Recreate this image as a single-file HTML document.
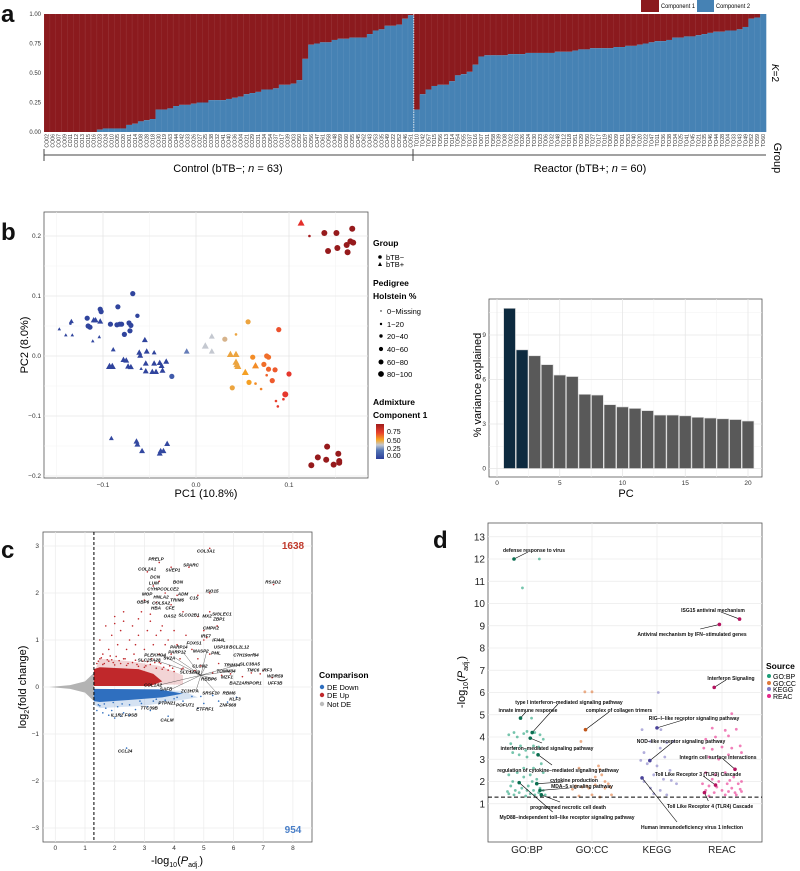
<!DOCTYPE html>
<html><head><meta charset="utf-8">
<style>
html,body{margin:0;padding:0;background:#fff;}
svg{display:block;font-family:"Liberation Sans",sans-serif;}
</style></head>
<body>
<svg id="fig" width="800" height="871" viewBox="0 0 800 871" xmlns="http://www.w3.org/2000/svg">
<g font-weight="bold" font-size="24" fill="#111">
<text x="1" y="22">a</text>
<text x="1" y="240">b</text>
<text x="1" y="558">c</text>
<text x="433" y="548">d</text>
</g>
<g font-size="6">
<rect x="641" y="0" width="18" height="12" fill="#8b1a1e"/>
<text x="661" y="8" textLength="34" lengthAdjust="spacingAndGlyphs">Component 1</text>
<rect x="697" y="0" width="17" height="12" fill="#4682b4"/>
<text x="716" y="8" textLength="34" lengthAdjust="spacingAndGlyphs">Component 2</text>
</g>
<text x="772" y="73" font-size="10" transform="rotate(90 772 73)" text-anchor="middle"><tspan font-style="italic">K</tspan>=2</text>
<text x="774" y="158" font-size="11" transform="rotate(90 774 158)" text-anchor="middle">Group</text>
<g stroke="#444" stroke-width="1">
<line x1="44" y1="155" x2="766" y2="155"/><line x1="44" y1="149" x2="44" y2="161"/><line x1="413" y1="149" x2="413" y2="161"/>
</g>
<text x="228" y="172" font-size="11" text-anchor="middle">Control (bTB−; <tspan font-style="italic">n</tspan> = 63)</text>
<text x="590" y="172" font-size="11" text-anchor="middle">Reactor (bTB+; <tspan font-style="italic">n</tspan> = 60)</text>
<g id="pa"></g>
<g id="pb"></g>
<g font-size="7.5">
<text x="373" y="246" font-weight="bold" font-size="8.5">Group</text>
<circle cx="380" cy="257" r="1.8" fill="#000"/><text x="386" y="260">bTB−</text>
<polygon points="380,262 382,266 378,266" fill="#000"/><text x="386" y="267">bTB+</text>
<text x="373" y="286" font-weight="bold" font-size="8.5">Pedigree</text>
<text x="373" y="299" font-weight="bold" font-size="8.5">Holstein %</text>
<circle cx="381" cy="311" r="0.7" fill="#000"/><text x="387" y="314">0−Missing</text>
<circle cx="381" cy="324" r="1.2" fill="#000"/><text x="387" y="327">1−20</text>
<circle cx="381" cy="336" r="1.7" fill="#000"/><text x="387" y="339">20−40</text>
<circle cx="381" cy="349" r="2.1" fill="#000"/><text x="387" y="352">40−60</text>
<circle cx="381" cy="362" r="2.5" fill="#000"/><text x="387" y="365">60−80</text>
<circle cx="381" cy="374" r="2.9" fill="#000"/><text x="387" y="377">80−100</text>
<text x="373" y="405" font-weight="bold" font-size="8.5">Admixture</text>
<text x="373" y="418" font-weight="bold" font-size="8.5">Component 1</text>
<defs><linearGradient id="cbar" x1="0" y1="1" x2="0" y2="0">
<stop offset="0" stop-color="#2c3e9a"/><stop offset="0.25" stop-color="#5577b5"/><stop offset="0.4" stop-color="#c4c8d0"/><stop offset="0.55" stop-color="#f5a623"/><stop offset="0.75" stop-color="#e8412c"/><stop offset="1" stop-color="#a01c1c"/></linearGradient></defs>
<rect x="376" y="424" width="8" height="35" fill="url(#cbar)"/>
<g font-size="7"><text x="387" y="434">0.75</text><text x="387" y="443">0.50</text><text x="387" y="451">0.25</text><text x="387" y="458">0.00</text></g>
</g>
<g id="pb2"></g>
<g id="pc"></g>
<g font-size="7.5">
<text x="319" y="678" font-weight="bold" font-size="8.5">Comparison</text>
<circle cx="322" cy="687" r="2.2" fill="#2f6fbf"/><text x="327" y="690">DE Down</text>
<circle cx="322" cy="695" r="2.2" fill="#c0282b"/><text x="327" y="698">DE Up</text>
<circle cx="322" cy="704" r="2.2" fill="#bbb"/><text x="327" y="707">Not DE</text>
</g>
<g id="pd"></g>
<g font-size="7">
<text x="766" y="669" font-weight="bold" font-size="8.5">Source</text>
<circle cx="769" cy="676" r="2" fill="#1b9e77"/><text x="773" y="679">GO:BP</text>
<circle cx="769" cy="683" r="2" fill="#e0783a"/><text x="773" y="686">GO:CC</text>
<circle cx="769" cy="689" r="2" fill="#7f78c5"/><text x="773" y="692">KEGG</text>
<circle cx="769" cy="696" r="2" fill="#e7298a"/><text x="773" y="699">REAC</text>
</g>
</svg>
<script>
const NS="http://www.w3.org/2000/svg";
function mk(tag,attrs,parent){const e=document.createElementNS(NS,tag);for(const k in attrs)e.setAttribute(k,attrs[k]);parent.appendChild(e);return e;}

const controlIds=["CO02","CO06","CO07","CO09","CO11","CO12","CO13","CO15","CO16","CO23","CO24","CO10","CO05","CO20","CO01","CO14","CO08","CO28","CO18","CO30","CO19","CO63","CO44","CO42","CO33","CO26","CO27","CO25","CO38","CO32","CO41","CO40","CO36","CO04","CO21","CO29","CO31","CO34","CO54","CO37","CO17","CO39","CO03","CO50","CO57","CO56","CO47","CO61","CO58","CO48","CO59","CO60","CO55","CO45","CO62","CO43","CO53","CO35","CO49","CO22","CO52","CO46","CO51"];
const controlComp2=[0,0,0,0,0,0,0,0,0,0.02,0.03,0.03,0.03,0.03,0.06,0.07,0.09,0.10,0.11,0.19,0.19,0.20,0.22,0.23,0.23,0.24,0.25,0.25,0.27,0.27,0.27,0.28,0.29,0.30,0.32,0.33,0.34,0.36,0.36,0.37,0.40,0.40,0.41,0.44,0.62,0.74,0.75,0.76,0.76,0.78,0.79,0.79,0.80,0.80,0.80,0.83,0.86,0.87,0.90,0.90,0.91,0.96,0.99];
const reactorIds=["TO10","TO42","TO57","TO15","TO56","TO13","TO14","TO54","TO55","TO37","TO16","TO07","TO31","TO58","TO39","TO08","TO02","TO03","TO26","TO24","TO30","TO23","TO06","TO32","TO48","TO12","TO18","TO51","TO29","TO50","TO27","TO17","TO19","TO05","TO09","TO01","TO53","TO40","TO20","TO22","TO47","TO11","TO36","TO38","TO34","TO25","TO41","TO45","TO21","TO35","TO46","TO44","TO28","TO04","TO33","TO43","TO49","TO52","TO59","TO60"];
const reactorComp2=[0.19,0.32,0.36,0.39,0.40,0.40,0.43,0.48,0.49,0.51,0.57,0.64,0.65,0.65,0.65,0.65,0.66,0.66,0.66,0.67,0.67,0.67,0.67,0.67,0.68,0.68,0.68,0.69,0.70,0.70,0.71,0.71,0.71,0.71,0.72,0.72,0.73,0.73,0.74,0.75,0.76,0.77,0.77,0.78,0.80,0.80,0.81,0.81,0.82,0.83,0.84,0.85,0.85,0.86,0.86,0.87,0.89,0.96,0.97,1.0];
const aTicks=["0.00","0.25","0.50","0.75","1.00"];

const pc1=[0.138,0.151,0.168,0.142,0.152,0.162,0.166,0.169,0.163,0.122,0.113,
0.124,0.131,0.140,0.141,0.148,0.153,0.154,0.154,
-0.091,-0.064,-0.063,-0.058,-0.039,-0.038,-0.035,-0.031,
-0.117,-0.116,-0.114,-0.103,-0.102,-0.092,-0.084,-0.085,-0.082,-0.080,-0.077,-0.071,-0.072,-0.070,-0.068,-0.063,-0.026,-0.135,
-0.147,-0.140,-0.133,-0.134,-0.111,-0.104,-0.110,-0.108,-0.103,-0.089,-0.093,-0.090,-0.078,-0.075,-0.073,-0.070,-0.055,-0.061,-0.060,-0.053,-0.054,-0.059,-0.054,-0.047,-0.043,-0.045,-0.045,-0.039,-0.037,-0.036,-0.032,-0.010,
0.010,0.017,0.017,0.031,
0.056,0.043,0.037,0.043,0.043,0.044,0.045,0.053,0.039,0.057,0.064,0.061,0.064,0.070,
0.073,0.076,0.078,0.078,0.076,0.082,0.085,0.089,0.100,0.096,0.094,0.086,0.088];
const pc2=[0.205,0.205,0.212,0.175,0.180,0.185,0.191,0.189,0.173,0.200,0.222,
-0.182,-0.169,-0.173,-0.151,-0.181,-0.163,-0.175,-0.178,
-0.137,-0.142,-0.147,-0.158,-0.162,-0.158,-0.158,-0.146,
0.063,0.050,0.048,0.078,0.074,0.053,0.082,0.052,0.053,0.053,0.036,0.042,0.055,0.051,0.104,0.067,-0.034,0.054,
0.045,0.035,0.035,0.058,0.025,0.032,0.060,0.060,0.058,0.011,-0.017,-0.017,-0.006,-0.007,-0.017,-0.018,0.027,0.006,0.001,0.008,-0.012,-0.021,-0.025,-0.026,-0.026,0.006,-0.012,-0.011,-0.016,-0.024,-0.009,0.008,
0.017,0.033,0.008,0.028,
0.057,0.036,0.003,0.003,-0.010,-0.014,-0.017,-0.027,-0.053,-0.044,-0.046,-0.002,-0.016,-0.055,
-0.014,0.000,-0.002,-0.022,-0.032,-0.041,-0.023,0.044,-0.030,-0.064,-0.072,-0.075,-0.084];
const pcGroup=[0,0,0,0,0,0,0,0,0,0,1,
0,0,0,0,0,0,0,0,
1,1,1,1,1,1,1,1,
0,0,0,0,0,0,0,0,0,0,0,0,0,0,0,0,0,0,
1,1,1,1,1,1,1,1,1,1,1,1,1,1,1,1,1,1,1,1,1,1,1,1,1,1,1,1,1,1,1,1,
1,1,1,0,
0,0,1,1,1,1,1,1,0,0,0,0,1,0,
0,0,0,0,0,0,0,0,0,0,0,0,0];
const pcHolstein=[5,5,5,5,5,5,5,5,5,1,4,
5,5,5,5,5,5,5,5,
2,3,3,3,3,3,3,3,
4,4,4,4,4,4,4,4,4,4,4,4,4,4,4,3,4,1,
1,1,1,2,1,1,3,3,3,2,4,4,3,3,3,3,3,3,3,3,3,1,3,3,3,2,3,3,3,3,3,3,
4,3,3,4,
4,1,4,4,4,4,4,4,4,4,1,4,4,1,
4,4,4,4,1,4,4,4,4,5,1,1,1];
const pcComp1=[0.98,0.98,0.98,0.98,0.98,0.98,0.98,0.98,0.98,0.95,0.82,
0.98,0.98,0.98,0.98,0.98,0.98,0.98,0.98,
0.05,0.05,0.05,0.05,0.05,0.05,0.05,0.05,
0.03,0.03,0.03,0.03,0.03,0.03,0.03,0.03,0.03,0.03,0.03,0.03,0.03,0.03,0.03,0.03,0.15,0.05,
0.03,0.03,0.03,0.03,0.05,0.05,0.03,0.03,0.03,0.05,0.03,0.03,0.03,0.03,0.03,0.03,0.03,0.03,0.03,0.03,0.03,0.05,0.03,0.03,0.03,0.03,0.03,0.03,0.03,0.03,0.03,0.25,
0.40,0.40,0.40,0.47,
0.55,0.55,0.55,0.55,0.55,0.55,0.55,0.58,0.55,0.58,0.62,0.62,0.62,0.64,
0.68,0.68,0.68,0.70,0.70,0.72,0.72,0.74,0.80,0.80,0.80,0.78,0.80];
const pcXTicks=[-0.1,0.0,0.1];
const pcYTicks=[-0.2,-0.1,0.0,0.1,0.2];
const varExplained=[10.8,8.0,7.6,7.0,6.3,6.2,5.0,4.95,4.3,4.15,4.05,3.9,3.6,3.6,3.55,3.45,3.4,3.35,3.3,3.2];
const varYTicks=[0,3,6,9];
const varXTicks=[0,5,10,15,20];

const upX=[1.5,1.7,1.9,2.0,2.1,2.2,2.3,2.4,2.5,2.6,2.7,2.8,2.9,3.0,3.1,3.2,3.3,3.4,3.5,3.6,3.7,3.8,3.9,4.0,4.1,4.2,4.4,4.6,4.8,5.0,5.2,5.5,1.6,1.8,2.05,2.35,2.65,2.95,3.25,3.55,3.85,4.3,4.7,5.3,5.9,6.6,7.0,7.3,7.35,5.2,5.2,3.5,4.5,3.9,3.1,3.5,3.3,3.7,4.1,4.8,3.0,3.4,3.9,5.2,4.8,5.45,5.0,5.1,3.55,4.3,3.2,2.8,2.3,2.0,1.45,1.55,1.65,1.75,1.85,1.95,2.15,2.45,2.75,3.05,3.35,3.65,3.95,4.25,4.55,4.9,5.6,6.3,6.9,1.4,1.6,1.8,2.0,2.2,2.4,2.6,2.8,3.0,3.2,3.4,3.6,3.8,4.0,1.5,1.9,2.3,2.7,3.1,3.5];
const upY=[1.0,1.3,1.1,1.5,0.9,1.2,1.4,0.8,1.0,1.3,0.9,1.1,1.6,0.8,1.2,1.4,0.9,1.1,0.7,1.3,0.9,1.0,0.7,1.2,0.9,0.6,1.1,0.8,0.6,1.0,0.7,0.5,0.7,0.8,0.65,0.6,0.7,0.55,0.6,0.5,0.45,0.4,0.35,0.3,0.28,0.3,0.35,0.2,2.18,2.0,2.95,2.65,2.55,2.55,2.45,2.25,2.15,2.0,1.95,1.95,1.85,1.8,1.75,1.6,1.5,1.3,1.2,1.05,1.2,1.6,1.55,1.45,1.6,1.35,0.55,0.62,0.5,0.58,0.66,0.52,0.56,0.5,0.48,0.45,0.52,0.42,0.4,0.38,0.33,0.45,0.25,0.22,0.28,0.5,0.48,0.55,0.47,0.5,0.46,0.52,0.44,0.42,0.48,0.4,0.38,0.36,0.33,0.6,0.58,0.6,0.57,0.54,0.52];
const downX=[1.5,1.7,1.9,2.1,2.3,2.5,2.7,2.9,3.1,3.3,3.5,3.7,4.0,4.3,4.6,5.0,5.5,5.8,6.1,1.6,1.8,2.2,2.0,2.5,3.2,3.8,2.4,1.4,2.6,4.8,1.45,1.65,1.95,2.25,2.85,3.4,4.1,4.9,5.3];
const downY=[-0.4,-0.45,-0.5,-0.42,-0.55,-0.38,-0.48,-0.35,-0.42,-0.3,-0.35,-0.28,-0.25,-0.3,-0.2,-0.35,-0.3,-0.32,-0.22,-0.55,-0.6,-0.62,-0.66,-0.6,-0.5,-0.62,-1.3,-0.5,-0.25,-0.45,-0.38,-0.36,-0.33,-0.36,-0.3,-0.26,-0.22,-0.2,-0.18];
const geneNames=["COL3A1","PRELP","SPARC","COL2A1","SVEP1","DCN","BGN","LUM","CYH","PCOLCE2","ADM","ISG15","RSAD2","MGP","HNLA2","C1S","TRIM6","GBP6","COL5A2","HBA","CFE","OAS2","SLCO2B1","MX2","SIGLEC1","ZBP1","CMPK2","IRF7","IFI44L","FOXS1","USP18","BCL2L12","PARP14","PARP12","MASP2","PML","C7H19orf84","PLEKHO4","SV2A","SLC25A28","CLCN2","TRIM34","SLC38A5","TMC6","IRF3","WDR59","TOMM34","SLC12A9","RBBP6","MZF1","COL1A2","BAZ2A","RIPOR1","UFF3B","SAFB","ZC3H7A","SRSF10","RBM6","KLF3","PTPN21","POFUT1","ZNF668","TTC39B","ETFRF1","IL1R2","FOSB","CALM","CCL24"];
const geneX=[5.07,3.39,4.57,3.09,3.96,3.36,4.13,3.32,3.26,3.79,4.30,5.28,7.33,3.09,3.56,4.67,4.10,2.95,3.56,3.39,3.86,3.86,4.50,5.11,5.61,5.51,5.24,5.07,5.51,4.67,5.58,6.19,4.16,4.10,4.90,5.41,6.42,3.36,3.84,3.16,4.87,5.95,6.55,6.66,7.13,7.40,5.75,4.53,5.17,5.78,3.29,6.12,6.66,7.40,3.73,4.53,5.24,5.85,6.05,3.76,4.37,5.81,3.16,5.04,2.08,2.55,3.76,2.35];
const geneY=[2.89,2.72,2.60,2.51,2.49,2.34,2.23,2.21,2.09,2.09,1.98,2.04,2.23,1.98,1.91,1.89,1.85,1.81,1.79,1.68,1.68,1.51,1.53,1.51,1.55,1.45,1.26,1.09,1.00,0.94,0.85,0.85,0.85,0.74,0.77,0.72,0.68,0.68,0.62,0.57,0.45,0.47,0.49,0.36,0.36,0.23,0.34,0.32,0.17,0.21,0.04,0.09,0.09,0.09,-0.04,-0.09,-0.13,-0.13,-0.26,-0.34,-0.38,-0.38,-0.45,-0.47,-0.60,-0.60,-0.70,-1.36];
const cXTicks=[0,1,2,3,4,5,6,7,8];
const cYTicks=[-3,-2,-1,0,1,2,3];
const nUp="1638", nDown="954";

const sources=["GO:BP","GO:CC","KEGG","REAC"];
const bpOff=[0.19,-0.07,0.07,-0.28,-0.2,-0.15,-0.05,0.0,0.12,0.2,0.25,-0.25,-0.18,-0.1,-0.02,0.1,0.18,-0.22,-0.12,0.0,0.1,0.22,-0.28,-0.15,-0.05,0.05,0.15,0.25,-0.25,-0.18,-0.08,0.02,0.1,0.2,-0.28,-0.2,-0.12,-0.02,0.05,0.12,0.18,0.28,-0.3,0.0,0.25,-0.22,0.08,0.1,-0.05];
const bpY=[12.0,10.7,4.85,4.1,4.2,4.0,4.15,4.25,4.2,4.1,3.9,3.7,3.5,3.6,3.4,3.6,3.55,3.3,3.2,3.1,3.3,2.8,2.3,2.4,2.2,2.3,2.1,2.4,1.8,1.6,1.7,1.8,1.6,1.7,1.45,1.4,1.5,1.35,1.45,1.4,1.5,1.4,1.55,1.6,1.6,2.0,2.0,2.6,2.6];
const ccOff=[-0.11,0.0,-0.17,-0.2,0.1,0.12,0.05,0.15,-0.25,-0.15,-0.05,0.05,0.2,0.25,-0.3,-0.2,0.0,0.12,0.3,-0.08,0.2,0.28];
const ccY=[6.03,6.03,3.8,2.6,2.7,2.55,2.2,2.3,1.8,1.75,1.7,1.85,1.7,1.9,1.65,1.35,1.4,1.3,1.4,1.8,2.0,1.75];
const keggOff=[0.02,-0.23,0.06,-0.1,0.15,0.25,-0.2,0.05,0.12,-0.25,-0.15,0.0,0.2,-0.05,0.1,-0.2,0.22,-0.1,0.05,0.15,-0.05,0.3];
const keggY=[6.0,4.33,4.33,3.8,3.75,3.8,3.3,3.5,3.1,2.95,2.8,2.7,2.5,2.3,2.1,2.0,2.05,1.7,1.6,1.4,1.45,1.9];
const reacOff=[0.15,-0.15,0.05,0.22,-0.25,-0.1,0.1,0.28,-0.28,-0.15,0.0,0.15,-0.2,-0.05,0.1,0.3,-0.25,-0.1,0.05,0.18,0.3,-0.3,-0.2,-0.05,0.08,0.15,0.25,-0.25,-0.12,0.0,0.1,0.2,0.3,-0.2,0.05,0.22,-0.08,0.12,0.28,-0.15];
const reacY=[5.05,4.4,4.3,4.35,3.9,4.0,4.05,3.6,3.5,3.45,3.55,3.5,3.1,3.0,3.2,3.3,2.4,2.3,2.4,2.2,2.0,1.9,1.8,2.0,1.9,1.7,1.9,1.6,1.5,1.6,1.55,1.5,1.55,1.35,1.4,1.4,1.75,2.05,1.65,2.1];
const termNames=["defense response to virus","innate immune response","type I interferon−mediated signaling pathway","interferon−mediated signaling pathway","regulation of cytokine−mediated signaling pathway","MyD88−independent toll−like receptor signaling pathway","cytokine production","MDA−5 signaling pathway","programmed necrotic cell death","complex of collagen trimers","RIG−I−like receptor signaling pathway","NOD−like receptor signaling pathway","Human immunodeficiency virus 1 infection","ISG15 antiviral mechanism","Antiviral mechanism by IFN−stimulated genes","Interferon Signaling","Integrin cell surface interactions","Toll Like Receptor 3 (TLR3) Cascade","Toll Like Receptor 4 (TLR4) Cascade"];
const termSource=[0,0,0,0,0,0,0,0,0,1,2,2,2,3,3,3,3,3,3];
const termOff=[-0.2,-0.1,0.08,0.05,0.17,-0.12,0.15,0.2,0.22,-0.1,0.0,-0.11,-0.23,0.27,-0.04,-0.12,0.2,-0.1,-0.27];
const termY=[12.0,4.85,4.2,3.95,3.2,1.95,1.9,1.6,1.4,4.33,4.41,2.94,2.16,9.3,9.06,6.23,2.55,1.84,1.5];
const dYTicks=[1,2,3,4,5,6,7,8,9,10,11,12,13];
const termLabelPos=[[534,550],[528,710],[569,702],[547,748],[558,770],[567,817],[574,780],[582,786],[568,807],[619,710],[694,718],[681,741],[692,827],[713,610],[692,634],[731,678],[718,757],[698,774],[710,806]];

(function(){
 const g=document.getElementById('pa');
 const L=44,R=766,T=14,B=132;
 const n=controlComp2.length+reactorComp2.length;
 const bw=(R-L)/n;
 const xs=i=>L+i*bw;
 const ys=v=>B-v*(B-T);
 const all=controlComp2.concat(reactorComp2);
 const ids=controlIds.concat(reactorIds);
 all.forEach((v,i)=>{
  const r1=mk('rect',{x:xs(i),y:T,width:bw+0.3,height:ys(v)-T,fill:'#8b1a1e'},g);
  
  
  const r2=mk('rect',{x:xs(i),y:ys(v),width:bw+0.3,height:B-ys(v),fill:'#4682b4'},g);
  
  
  mk('line',{x1:xs(i),y1:T,x2:xs(i),y2:B,stroke:'#ffffff',"stroke-opacity":0.15,"stroke-width":0.4},g);
  const t=mk('text',{x:0,y:0,"font-size":5.2,"text-anchor":"end",transform:`translate(${xs(i)+bw/2+1.8},${B+2}) rotate(-90)`,fill:'#333'},g);
  t.textContent=ids[i];
  
  
 });
 mk('line',{x1:xs(controlComp2.length),y1:T,x2:xs(controlComp2.length),y2:B,stroke:'#fff',"stroke-width":0.8,"stroke-dasharray":"1.5,1"},g);
 aTicks.forEach(s=>{
  const v=parseFloat(s);
  const t=mk('text',{x:41,y:ys(v)+2,"font-size":6,"text-anchor":"end",fill:'#333'},g);
  t.textContent=s;
  
  
 });
})();

function admixColor(v){
 const st=[[0,[44,62,154]],[0.2,[70,100,176]],[0.4,[196,200,208]],[0.5,[221,170,110]],[0.58,[245,160,35]],[0.72,[238,90,45]],[0.84,[226,38,43]],[1,[139,24,26]]];
 for(let i=1;i<st.length;i++){if(v<=st[i][0]){const a=st[i-1],b=st[i];const t=(v-a[0])/(b[0]-a[0]);const c=a[1].map((x,k)=>Math.round(x+(b[1][k]-x)*t));return `rgb(${c})`;}}
 return 'rgb(139,24,26)';
}
(function(){
 const g=document.getElementById('pb');
 const L=44,R=368,T=212,B=478;
 const xs=v=>196+v*930;
 const ys=v=>356-v*600;
 mk('rect',{x:L,y:T,width:R-L,height:B-T,fill:'#fff',stroke:'#555',"stroke-width":0.8},g);
 [-0.15,-0.05,0.05,0.15].forEach(v=>mk('line',{x1:xs(v),y1:T,x2:xs(v),y2:B,stroke:'#f2f2f2',"stroke-width":0.5},g));
 [-0.15,-0.05,0.05,0.15].forEach(v=>mk('line',{x1:L,y1:ys(v),x2:R,y2:ys(v),stroke:'#f2f2f2',"stroke-width":0.5},g));
 pcXTicks.forEach(v=>{mk('line',{x1:xs(v),y1:T,x2:xs(v),y2:B,stroke:'#e6e6e6',"stroke-width":0.8},g);
  const t=mk('text',{x:xs(v),y:B+9,"font-size":6.5,"text-anchor":"middle",fill:'#333'},g);t.textContent=v.toFixed(1).replace('-','−');
  
  });
 pcYTicks.forEach(v=>{mk('line',{x1:L,y1:ys(v),x2:R,y2:ys(v),stroke:'#e6e6e6',"stroke-width":0.8},g);
  const t=mk('text',{x:L-3,y:ys(v)+2,"font-size":6.5,"text-anchor":"end",fill:'#333'},g);t.textContent=v.toFixed(1).replace('-','−');
  
  });
 const rad=[0.8,1.3,1.8,2.2,2.6,3.0];
 pc1.forEach((x,i)=>{
  const cx=xs(x),cy=ys(pc2[i]),r=rad[pcHolstein[i]],col=admixColor(pcComp1[i]);
  let m;
  if(pcGroup[i]===0){m=mk('circle',{cx:cx,cy:cy,r:r,fill:col},g);}
  else{const s=r*1.35;m=mk('polygon',{points:`${cx},${cy-s} ${cx+s},${cy+s*0.8} ${cx-s},${cy+s*0.8}`,fill:col},g);}
  
  
 });
 const xt=mk('text',{x:206,y:497,"font-size":11,"text-anchor":"middle"},g);xt.textContent='PC1 (10.8%)';
 
 
 const yt=mk('text',{x:0,y:0,"font-size":11,"text-anchor":"middle",transform:'translate(28,345) rotate(-90)'},g);yt.textContent='PC2 (8.0%)';
 
 
})();

(function(){
 const g=document.getElementById('pb2');
 const L=489,R=762,T=299,B=477;
 const xs=v=>497+v*12.55;
 const ys=v=>468.5-v*14.83;
 mk('rect',{x:L,y:T,width:R-L,height:B-T,fill:'#fff',stroke:'#555',"stroke-width":0.8},g);
 [2.5,7.5,12.5,17.5].forEach(v=>mk('line',{x1:xs(v),y1:T,x2:xs(v),y2:B,stroke:'#f2f2f2',"stroke-width":0.5},g));
 [1.5,4.5,7.5,10.5].forEach(v=>mk('line',{x1:L,y1:ys(v),x2:R,y2:ys(v),stroke:'#f2f2f2',"stroke-width":0.5},g));
 varXTicks.forEach(v=>{mk('line',{x1:xs(v),y1:T,x2:xs(v),y2:B,stroke:'#e6e6e6',"stroke-width":0.8},g);
  const t=mk('text',{x:xs(v),y:B+8,"font-size":6.5,"text-anchor":"middle",fill:'#333'},g);t.textContent=v;
  
  });
 varYTicks.forEach(v=>{mk('line',{x1:L,y1:ys(v),x2:R,y2:ys(v),stroke:'#e6e6e6',"stroke-width":0.8},g);
  const t=mk('text',{x:L-3,y:ys(v)+2,"font-size":6.5,"text-anchor":"end",fill:'#333'},g);t.textContent=v;
  
  });
 varExplained.forEach((v,i)=>{
  const b=mk('rect',{x:xs(i+1)-5.9,y:ys(v),width:11.8,height:ys(0)-ys(v),fill:i<2?'#0d2a3f':'#595959',stroke:'#d9d9d9',"stroke-width":0.6},g);
  
  
 });
 const xt=mk('text',{x:626,y:497,"font-size":11,"text-anchor":"middle"},g);xt.textContent='PC';
 
 
 const yt=mk('text',{x:0,y:0,"font-size":11,"text-anchor":"middle",transform:'translate(481,385) rotate(-90)'},g);yt.textContent='% variance explained';
 
 
})();

(function(){
 const g=document.getElementById('pc');
 const L=43,R=312,T=532,B=842;
 const xs=v=>55.3+v*29.7;
 const ys=v=>687-v*47;
 mk('rect',{x:L,y:T,width:R-L,height:B-T,fill:'#fff',stroke:'#555',"stroke-width":0.8},g);
 cXTicks.forEach(v=>{mk('line',{x1:xs(v),y1:T,x2:xs(v),y2:B,stroke:'#ebebeb',"stroke-width":0.7},g);
  const t=mk('text',{x:xs(v),y:B+8,"font-size":6.5,"text-anchor":"middle",fill:'#333'},g);t.textContent=v;
  
  });
 cYTicks.forEach(v=>{mk('line',{x1:L,y1:ys(v),x2:R,y2:ys(v),stroke:'#ebebeb',"stroke-width":0.7},g);
  const t=mk('text',{x:L-4,y:ys(v)+2,"font-size":6.5,"text-anchor":"end",fill:'#333'},g);t.textContent=String(v).replace('-','−');
  
  });
 const P=(x,y)=>`${xs(x)},${ys(y)}`;
 const gray=mk('polygon',{points:[P(-0.2,0),P(0.5,0.04),P(1.0,0.12),P(1.3,0.3),P(1.3,-0.3),P(1.0,-0.12),P(0.5,-0.04)].join(' '),fill:'#b3b3b3'},g);
 
 
 mk('polygon',{points:[P(1.3,0.3),P(1.5,0.6),P(2.5,0.55),P(3.5,0.45),P(4.3,0.25),P(4.3,0.05),P(1.3,0.05)].join(' '),fill:'#c0282b',"fill-opacity":0.2},g);
 const band=mk('polygon',{points:[P(1.3,0.02),P(3.2,0.02),P(3.6,0.12),P(3.3,0.28),P(2.8,0.38),P(1.5,0.42),P(1.3,0.38)].join(' '),fill:'#c0282b'},g);
 
 
 mk('polygon',{points:[P(1.3,-0.04),P(4.3,-0.08),P(4.8,-0.22),P(3.0,-0.4),P(1.5,-0.45),P(1.3,-0.38)].join(' '),fill:'#2f6fbf',"fill-opacity":0.2},g);
 const bband=mk('polygon',{points:[P(1.3,-0.04),P(3.5,-0.05),P(4.3,-0.14),P(3.6,-0.22),P(2.4,-0.28),P(1.5,-0.32),P(1.3,-0.3)].join(' '),fill:'#2f6fbf'},g);
 
 
 upX.forEach((x,i)=>{const c=mk('circle',{cx:xs(x),cy:ys(upY[i]),r:0.8,fill:'#c0282b'},g);
  
  });
 downX.forEach((x,i)=>{const c=mk('circle',{cx:xs(x),cy:ys(downY[i]),r:0.8,fill:'#2f6fbf'},g);
  
  });
 const dl=mk('line',{x1:xs(1.3),y1:T,x2:xs(1.3),y2:B,stroke:'#000',"stroke-width":1,"stroke-dasharray":"3,2"},g);
 
 
 const hub=[4.9,0.25];
 [37,38,39,47,50,54,55,56,48,40,41,46,33,34].forEach(k=>{
  mk('line',{x1:xs(geneX[k])+6,y1:ys(geneY[k]),x2:xs(hub[0]),y2:ys(hub[1]),stroke:'#222',"stroke-width":0.35},g);
 });
 geneNames.forEach((nm,i)=>{
  const t=mk('text',{x:xs(geneX[i]),y:ys(geneY[i])+1.5,"font-size":4.6,"font-weight":"bold","font-style":"italic","text-anchor":"middle",fill:'#111'},g);
  t.textContent=nm;
  
  
 });
 const u=mk('text',{x:293,y:549,"font-size":10,"font-weight":"bold","text-anchor":"middle",fill:'#c0392b'},g);u.textContent=nUp;
 
 
 const dn=mk('text',{x:293,y:833,"font-size":10,"font-weight":"bold","text-anchor":"middle",fill:'#4a7fc8'},g);dn.textContent=nDown;
 
 
 const xt=mk('text',{x:177,y:864,"font-size":11,"text-anchor":"middle"},g);
 xt.innerHTML='-log<tspan font-size="7" dy="3">10</tspan><tspan dy="-3">(</tspan><tspan font-style="italic">P</tspan><tspan font-size="7" dy="3">adj.</tspan><tspan dy="-3">)</tspan>';
 
 
 const yt=mk('text',{x:0,y:0,"font-size":11,"text-anchor":"middle",transform:'translate(26,687) rotate(-90)'},g);
 yt.innerHTML='log<tspan font-size="7" dy="3">2</tspan><tspan dy="-3">(fold change)</tspan>';
 
 
})();

(function(){
 const g=document.getElementById('pd');
 const L=488,R=762,T=523,B=842;
 const xs=(ci,off)=>527+ci*65+off*65;
 const ys=v=>826-v*22.25;
 const cols=['#1b9e77','#e0783a','#7f78c5','#e7298a'];
 const dark=['#0b6e50','#c0561a','#4a4399','#b5135f'];
 mk('rect',{x:L,y:T,width:R-L,height:B-T,fill:'#fff',stroke:'#555',"stroke-width":0.8},g);
 dYTicks.forEach(v=>{mk('line',{x1:L,y1:ys(v),x2:R,y2:ys(v),stroke:'#ebebeb',"stroke-width":0.7},g);
  const t=mk('text',{x:L-3,y:ys(v)+3.5,"font-size":10,"text-anchor":"end",fill:'#222'},g);t.textContent=v;
  
  });
 sources.forEach((s,ci)=>{mk('line',{x1:xs(ci,0),y1:T,x2:xs(ci,0),y2:B,stroke:'#ebebeb',"stroke-width":0.7},g);
  const t=mk('text',{x:xs(ci,0),y:853,"font-size":10,"text-anchor":"middle",fill:'#222'},g);t.textContent=s;
  
  });
 [[bpOff,bpY],[ccOff,ccY],[keggOff,keggY],[reacOff,reacY]].forEach((arr,ci)=>{
  arr[0].forEach((o,i)=>{const c=mk('circle',{cx:xs(ci,o),cy:ys(arr[1][i]),r:1.4,fill:cols[ci],"fill-opacity":0.6},g);
   
   });
 });
 const th=mk('line',{x1:L,y1:ys(1.3),x2:R,y2:ys(1.3),stroke:'#000',"stroke-width":1,"stroke-dasharray":"4,2.5"},g);
 
 
 termNames.forEach((nm,i)=>{
  const px=xs(termSource[i],termOff[i]),py=ys(termY[i]);
  const lp=termLabelPos[i];
  const ly=lp[1]<py?lp[1]+2:lp[1]-5;
  mk('line',{x1:lp[0]+(px-lp[0])*0.3,y1:ly,x2:px,y2:py,stroke:'#000',"stroke-width":0.6},g);
  const c=mk('circle',{cx:px,cy:py,r:1.8,fill:dark[termSource[i]]},g);
  
  
  const t=mk('text',{x:lp[0],y:lp[1]+1.8,"font-size":5,"font-weight":"bold","text-anchor":"middle",fill:'#111'},g);
  t.textContent=nm;
  
  
 });
 const yt=mk('text',{x:0,y:0,"font-size":11,"text-anchor":"middle",transform:'translate(465,682) rotate(-90)'},g);
 yt.innerHTML='-log<tspan font-size="7" dy="3">10</tspan><tspan dy="-3">(</tspan><tspan font-style="italic">P</tspan><tspan font-size="7" dy="3">adj.</tspan><tspan dy="-3">)</tspan>';
 
 
})();
</script>
</body></html>
